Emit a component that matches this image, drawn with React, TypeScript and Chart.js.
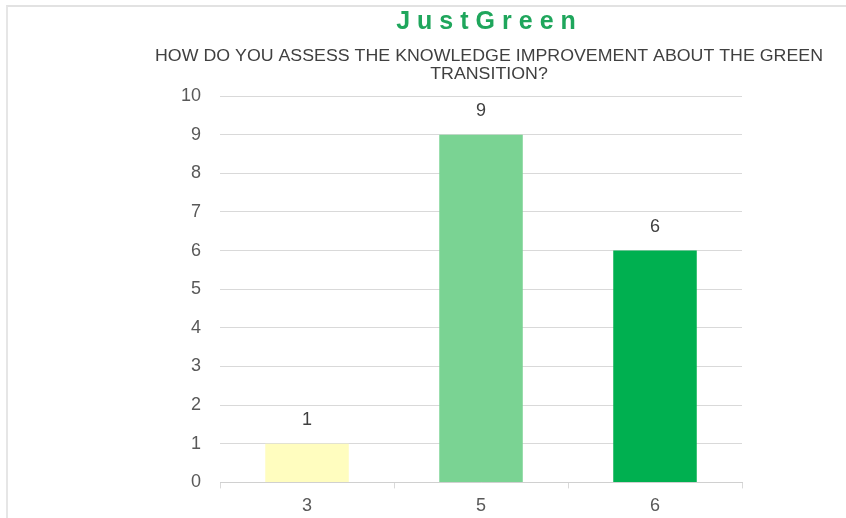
import React, { useEffect, useRef } from "react";
import { Chart, registerables } from "chart.js";

Chart.register(...registerables);

const TITLE = "JustGreen";
const SUBTITLE_LINES = [
  "HOW DO YOU ASSESS THE KNOWLEDGE IMPROVEMENT ABOUT THE GREEN",
  "TRANSITION?",
];
const categories = ["3", "5", "6"];
const answers = [1, 9, 6];
const barColors = ["#FFFDBF", "#7AD393", "#00B050"];
const yTicks = [0, 1, 2, 3, 4, 5, 6, 7, 8, 9, 10];

const FONT = "'Liberation Sans', Arial, sans-serif";

// Header (title + question) drawn above the plot area
const headerPlugin = {
  id: "header",
  afterDraw(chart: Chart) {
    const ctx = chart.ctx;
    ctx.save();
    ctx.textAlign = "center";
    ctx.textBaseline = "middle";
    ctx.fillStyle = "#1FA65C";
    ctx.font = `bold 25px ${FONT}`;
    (ctx as any).letterSpacing = "7px";
    ctx.fillText(TITLE, 486 + 3.5, 22);
    (ctx as any).letterSpacing = "0px";
    ctx.fillStyle = "#404040";
    ctx.font = `15px ${FONT}`;
    const targetWidth = 668;
    const w0 = ctx.measureText(SUBTITLE_LINES[0]).width;
    const sx = targetWidth / w0;
    SUBTITLE_LINES.forEach((line, i) => {
      ctx.save();
      ctx.translate(489, 57 + i * 18);
      ctx.scale(sx, 1.05);
      ctx.fillText(line, 0, 0);
      ctx.restore();
    });
    ctx.restore();
  },
};

// Value labels above each bar
const valueLabelPlugin = {
  id: "valueLabels",
  afterDatasetsDraw(chart: Chart) {
    const ctx = chart.ctx;
    const meta = chart.getDatasetMeta(0);
    ctx.save();
    ctx.fillStyle = "#404040";
    ctx.font = `18px ${FONT}`;
    ctx.textAlign = "center";
    ctx.textBaseline = "middle";
    meta.data.forEach((bar: any, i: number) => {
      ctx.fillText(String(answers[i]), bar.x, bar.y - 24);
    });
    ctx.restore();
  },
};

export default function App() {
  const canvasRef = useRef<HTMLCanvasElement | null>(null);

  useEffect(() => {
    if (!canvasRef.current) return;
    const chart = new Chart(canvasRef.current, {
      type: "bar",
      data: {
        labels: categories,
        datasets: [
          {
            data: answers,
            backgroundColor: barColors,
            borderWidth: 0,
            barPercentage: 0.48,
            categoryPercentage: 1,
          },
        ],
      },
      options: {
        animation: false,
        responsive: false,
        layout: { padding: { top: 96, left: 162, right: 104, bottom: 4 } },
        plugins: {
          legend: { display: false },
          tooltip: { enabled: false },
          title: { display: false },
        },
        scales: {
          x: {
            grid: {
              display: true,
              drawOnChartArea: false,
              drawTicks: true,
              tickLength: 6,
              color: "#D9D9D9",
              offset: true,
            },
            border: { display: true, color: "#D0D0D0" },
            ticks: {
              color: "#595959",
              font: { family: FONT, size: 18 },
              padding: 7,
            },
          },
          y: {
            min: 0,
            max: 10,
            afterBuildTicks(axis: any) {
              axis.ticks = yTicks.map((v) => ({ value: v }));
            },
            grid: { color: "#D9D9D9", drawTicks: false },
            border: { display: false },
            ticks: {
              color: "#595959",
              font: { family: FONT, size: 18 },
              padding: 19,
            },
          },
        },
      },
      plugins: [headerPlugin, valueLabelPlugin],
    });
    return () => chart.destroy();
  }, []);

  return (
    <div
      style={{
        position: "fixed",
        left: 0,
        top: 0,
        width: 846,
        height: 518,
        overflow: "hidden",
        background: "#fff",
      }}
    >
      <div
        style={{
          position: "absolute",
          left: 6,
          top: 5,
          width: 2000,
          height: 2000,
          borderTop: "2px solid #E2E2E2",
          borderLeft: "2px solid #E6E6E6",
        }}
      />
      <canvas
        ref={canvasRef}
        width={846}
        height={528}
        style={{ position: "absolute", left: 0, top: 0 }}
      />
    </div>
  );
}
